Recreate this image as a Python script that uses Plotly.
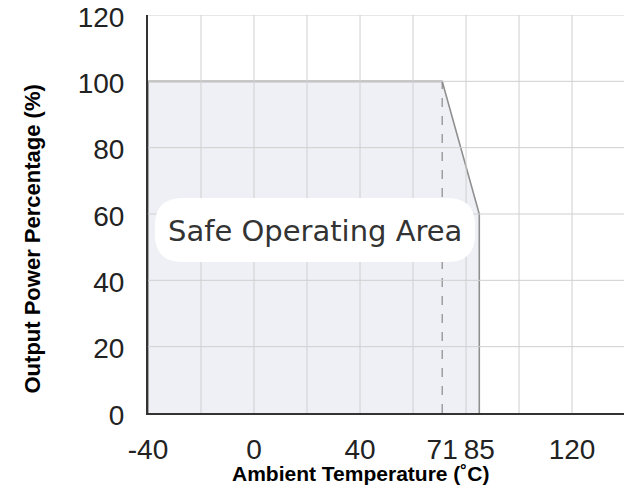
import plotly.graph_objects as go

# Data
temps = [-40, -40, 71, 85, 85]
power = [0, 100, 100, 60, 0]
x_ticks = [-40, 0, 40, 71, 85, 120]
y_ticks = [0, 20, 40, 60, 80, 100, 120]
x_grid = [-20, 0, 20, 40, 60, 80, 100, 120]
y_grid = [20, 40, 60, 80, 100, 120]
derate_start = 71
label_text = "Safe Operating Area"

fig = go.Figure()

# safe operating area fill
fig.add_trace(go.Scatter(
    x=temps, y=power, mode="lines", fill="toself",
    fillcolor="#eef0f5", line=dict(color="#8f8f8f", width=1.6),
    hoverinfo="skip", showlegend=False))

# dashed line at derating start
fig.add_trace(go.Scatter(
    x=[derate_start, derate_start], y=[0, 100], mode="lines",
    line=dict(color="#8a8a8a", width=1.2, dash="dash"),
    hoverinfo="skip", showlegend=False))

# gridlines (drawn above the fill, like the reference)
grid_style = dict(color="#cfcfcf", width=1)
for gx in x_grid:
    fig.add_shape(type="line", x0=gx, x1=gx, y0=0, y1=120, line=grid_style, layer="above")
for gy in y_grid:
    fig.add_shape(type="line", x0=-40, x1=139.6, y0=gy, y1=gy, line=grid_style, layer="above")

# rounded white label box (data coords)
x0, x1, y0, y1 = -37.4, 83.4, 45.5, 64.8
rx, ry = 10.5, 8.3
path = (f"M {x0+rx},{y0} L {x1-rx},{y0} Q {x1},{y0} {x1},{y0+ry} "
        f"L {x1},{y1-ry} Q {x1},{y1} {x1-rx},{y1} L {x0+rx},{y1} "
        f"Q {x0},{y1} {x0},{y1-ry} L {x0},{y0+ry} Q {x0},{y0} {x0+rx},{y0} Z")
fig.add_shape(type="path", path=path, fillcolor="white", line=dict(width=0), layer="above")

fig.add_annotation(x=(x0 + x1) / 2, y=(y0 + y1) / 2 - 0.3, text=label_text, showarrow=False,
                   font=dict(family="DejaVu Sans", size=29, color="#333333"))

# axis titles
fig.add_annotation(xref="paper", yref="paper", x=(360 - 148) / (624 - 148), y=-(487 - 413) / 398,
                   text="<b>Ambient Temperature (˚C)</b>", showarrow=False,
                   font=dict(family="Liberation Sans, Arial", size=21, color="black"))
fig.add_annotation(xref="paper", yref="paper", x=-(148 - 17) / (624 - 148), y=(413 - 239) / 398,
                   text="<b>Output Power Percentage (%)</b>", showarrow=False, textangle=-90,
                   font=dict(family="Liberation Sans, Arial", size=22, color="black"))

tick_font = dict(family="Liberation Sans, Arial", size=28, color="#222222")

fig.update_xaxes(range=[-40, 139.6], tickvals=x_ticks, ticktext=[str(v) for v in x_ticks],
                 showgrid=False, zeroline=False, showline=True, linecolor="#333333", linewidth=2,
                 ticks="outside", ticklen=10, tickcolor="rgba(0,0,0,0)", tickfont=tick_font,
                 automargin=False)
fig.update_yaxes(range=[0, 120], tickvals=y_ticks, showgrid=False,
                 zeroline=False, showline=True, linecolor="#333333", linewidth=2,
                 ticks="outside", ticklen=16, tickcolor="rgba(0,0,0,0)", tickfont=tick_font,
                 ticklabelshift=2, automargin=False)

fig.update_layout(width=624, height=499, margin=dict(l=148, r=0, t=15, b=86),
                  plot_bgcolor="white", paper_bgcolor="white")

fig.write_html("out.html", config={"displayModeBar": False},
               post_script="document.body.style.margin='0';document.body.style.overflow='hidden';")
